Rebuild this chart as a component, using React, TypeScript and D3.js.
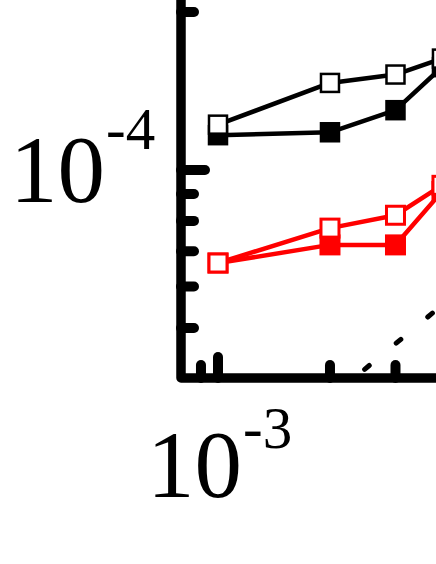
import React, { useEffect, useRef } from "react";
import * as d3 from "d3";

// x positions of the measurements
const xValues = [1e-3, 2e-3, 3e-3, 4e-3];

// series values
const blackOpen = [1.22e-4, 1.465e-4, 1.52e-4, 1.63e-4];
const blackFilled = [1.165e-4, 1.18e-4, 1.3e-4, 1.57e-4];
const redOpen = [0.665e-4, 0.775e-4, 0.82e-4, 0.935e-4];
const redFilled = [0.665e-4, 0.72e-4, 0.72e-4, 0.91e-4];

// dashed guide line (two ends)
const guideX = [2.2e-3, 5e-3];
const guideY = [3.89e-5, 6.3e-5];

// ticks
const xMajorTicks = [1e-3];
const xMinorTicks = [9e-4, 2e-3, 3e-3, 4e-3];
const yMajorTicks = [1e-4];
const yMinorTicks = [5e-5, 6e-5, 7e-5, 8e-5, 9e-5, 2e-4];
const xTickLabel = { base: "10", exp: "-3" };
const yTickLabel = { base: "10", exp: "-4" };

export default function App() {
  const svgRef = useRef(null);
  const width = 436;
  const height = 564;
  const axisLeft = 181;
  const axisBottom = 378;

  useEffect(() => {
    const svg = d3.select(svgRef.current);
    svg.selectAll("*").remove();

    // log scales, one decade = 372px in x and 525px in y
    const x = d3.scaleLog().domain([1e-3, 1e-2]).range([218, 218 + 372]);
    const y = d3.scaleLog().domain([1e-5, 1e-4]).range([170 + 525, 170]);

    const clip = svg.append("clipPath").attr("id", "plot-clip");
    clip.append("rect").attr("x", axisLeft).attr("y", 0).attr("width", width).attr("height", axisBottom);

    // dashed guide
    svg.append("path")
      .datum(guideX.map((d, i) => [d, guideY[i]]))
      .attr("clip-path", "url(#plot-clip)")
      .attr("fill", "none")
      .attr("stroke", "black")
      .attr("stroke-width", 5)
      .attr("stroke-linecap", "round")
      .attr("stroke-dasharray", "6 35")
      .attr("stroke-dashoffset", 16)
      .attr("d", d3.line().x(d => x(d[0])).y(d => y(d[1])));

    const series = [
      { values: blackFilled, color: "black", filled: true, sw: 2.5 },
      { values: blackOpen, color: "black", filled: false, sw: 2.5 },
      { values: redFilled, color: "red", filled: true, sw: 3 },
      { values: redOpen, color: "red", filled: false, sw: 3 }
    ];

    const line = d3.line().x((d, i) => x(xValues[i])).y(d => y(d));

    series.forEach(s => {
      svg.append("path")
        .datum(s.values)
        .attr("fill", "none")
        .attr("stroke", s.color)
        .attr("stroke-width", 4.5)
        .attr("stroke-linejoin", "round")
        .attr("d", line);
    });

    const size = 18;
    series.forEach(s => {
      svg.append("g")
        .selectAll("rect")
        .data(s.values)
        .enter().append("rect")
        .attr("x", (d, i) => x(xValues[i]) - size / 2)
        .attr("y", d => y(d) - size / 2)
        .attr("width", size)
        .attr("height", size)
        .attr("fill", s.filled ? s.color : "white")
        .attr("stroke", s.color)
        .attr("stroke-width", s.sw);
    });

    // axes frame
    svg.append("path")
      .attr("d", `M${axisLeft},-10 L${axisLeft},${axisBottom} L${width + 20},${axisBottom}`)
      .attr("fill", "none")
      .attr("stroke", "black")
      .attr("stroke-width", 9.5)
      .attr("stroke-linejoin", "round");

    const tickStyle = sel => sel
      .attr("stroke", "black")
      .attr("stroke-width", 10)
      .attr("stroke-linecap", "round");

    // y ticks
    svg.append("g").selectAll("line")
      .data(yMajorTicks.map(v => ({ v, len: 24 })).concat(yMinorTicks.map(v => ({ v, len: 13 }))))
      .enter().append("line")
      .attr("x1", axisLeft)
      .attr("x2", d => axisLeft + d.len)
      .attr("y1", d => y(d.v))
      .attr("y2", d => y(d.v))
      .call(tickStyle);

    // x ticks
    svg.append("g").selectAll("line")
      .data(xMajorTicks.map(v => ({ v, len: 21 })).concat(xMinorTicks.map(v => ({ v, len: 13 }))))
      .enter().append("line")
      .attr("x1", d => x(d.v))
      .attr("x2", d => x(d.v))
      .attr("y1", axisBottom)
      .attr("y2", d => axisBottom - d.len)
      .call(tickStyle);

    const font = "'Liberation Serif', 'Times New Roman', serif";

    // y tick label 10^-4
    svg.append("text")
      .attr("x", 10)
      .attr("y", y(yMajorTicks[0]) + 32)
      .attr("font-family", font)
      .attr("font-size", 95)
      .text(yTickLabel.base);
    svg.append("text")
      .attr("x", 106)
      .attr("y", y(yMajorTicks[0]) - 21)
      .attr("font-family", font)
      .attr("font-size", 59)
      .text(yTickLabel.exp);

    // x tick label 10^-3
    svg.append("text")
      .attr("x", x(xMajorTicks[0]) - 71)
      .attr("y", 497)
      .attr("font-family", font)
      .attr("font-size", 95)
      .text(xTickLabel.base);
    svg.append("text")
      .attr("x", x(xMajorTicks[0]) + 25)
      .attr("y", 448)
      .attr("font-family", font)
      .attr("font-size", 59)
      .text(xTickLabel.exp);
  }, []);

  return (
    <svg
      ref={svgRef}
      width={width}
      height={height}
      style={{ position: "absolute", left: 0, top: 0, background: "white" }}
    />
  );
}
